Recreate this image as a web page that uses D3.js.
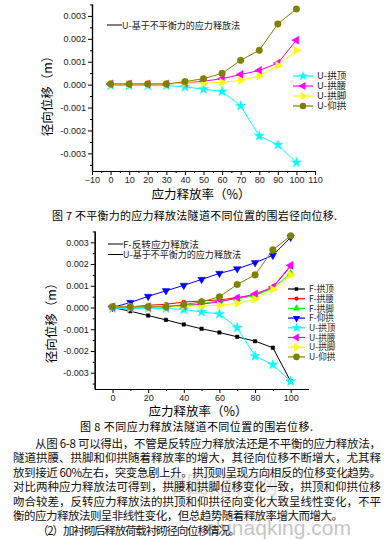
<!DOCTYPE html>
<html>
<head>
<meta charset="utf-8">
<script src="https://cdn.jsdelivr.net/npm/d3@7"></script>
<style>
  body { margin: 0; background: #fff; }
  svg { display: block; background: #fff; }
  text { font-family: "Liberation Sans", Arial, sans-serif; }
  .cjk { font-family: "Noto Sans CJK SC", sans-serif; }
</style>
</head>
<body>
<div class="chart"></div>
<script>
// release rate (%)
var rates = [0, 10, 20, 30, 40, 50, 60, 70, 80, 90, 100];

// U = unbalanced-force stress release method
var uCrown  = [-0.00004, -0.00004, -0.00004, -0.00004, -0.0001, -0.0002, -0.0003, -0.00093, -0.00224, -0.00263, -0.0034];
var uWaist  = [0.00003, 0.00003, 0.00003, 0.00003, 0.00007, 0.00015, 0.00026, 0.00044, 0.00062, 0.00094, 0.00194];
var uFoot   = [0.00003, 0.00003, 0.00003, 0.00003, 0.00007, 0.00007, 0.0001, 0.00019, 0.00038, 0.00084, 0.0015];
var uInvert = [0.00003, 0.00003, 0.00003, 0.00003, 0.00013, 0.00026, 0.00049, 0.00106, 0.0015, 0.00265, 0.0033];

// F = reversed stress release method
var fCrown  = [0, -0.00017, -0.00037, -0.00057, -0.00078, -0.00098, -0.00115, -0.00135, -0.00155, -0.00185, -0.0034];
var fWaist  = [0, 0.00003, 0.0001, 0.00015, 0.00025, 0.0003, 0.00035, 0.00045, 0.00057, 0.00092, 0.0019];
var fFoot   = [0, 0, 0.00003, 0.00006, 0.0001, 0.00018, 0.0003, 0.0004, 0.00055, 0.0009, 0.00157];
var fInvert = [0, 0.00023, 0.00051, 0.00077, 0.00102, 0.00129, 0.00157, 0.00178, 0.00206, 0.0024, 0.00323];

var yTicks = [-0.003, -0.002, -0.001, 0, 0.001, 0.002, 0.003];
var xTicks1 = [-10, 0, 10, 20, 30, 40, 50, 60, 70, 80, 90, 100, 110];
var xTicks2 = [0, 20, 40, 60, 80, 100];

var uNames = ["U-拱顶", "U-拱腰", "U-拱脚", "U-仰拱"];
var fNames = ["F-拱顶", "F-拱腰", "F-拱脚", "F-仰拱"];

var paragraph = [
  "从图 6-8 可以得出，不管是反转应力释放法还是不平衡的应力释放法，",
  "隧道拱腰、拱脚和仰拱随着释放率的增大，其径向位移不断增大，尤其释",
  "放到接近 60%左右，突变急剧上升。拱顶则呈现方向相反的位移变化趋势。",
  "对比两种应力释放法可得到，拱腰和拱脚位移变化一致，拱顶和仰拱位移",
  "吻合较差，反转应力释放法的拱顶和仰拱径向变化大致呈线性变化，不平",
  "衡的应力释放法则呈非线性变化，但总趋势随着释放率增大而增大。",
  "（2）加衬砌后释放荷载衬砌径向位移情况。"
];

var svg = d3.select(".chart").append("svg")
  .attr("width", 387)
  .attr("height", 540);

// series styles
var uStyles = [
  { values: uCrown,  color: "#00ffff", sym: d3.symbolStar, rot: 0, size: 30 },
  { values: uWaist,  color: "#ff00ff", sym: d3.symbolTriangle, rot: -90, size: 28 },
  { values: uFoot,   color: "#ffff00", sym: d3.symbolTriangle, rot: 90, size: 28 },
  { values: uInvert, color: "#808000", sym: d3.symbolCircle, rot: 0, size: 34 }
];
var fStyles = [
  { values: fCrown,  color: "#000000", sym: d3.symbolSquare, rot: 0, size: 12 },
  { values: fWaist,  color: "#ff0000", sym: d3.symbolCircle, rot: 0, size: 14 },
  { values: fFoot,   color: "#00ff00", sym: d3.symbolTriangle, rot: 0, size: 22 },
  { values: fInvert, color: "#0000ff", sym: d3.symbolTriangle, rot: 180, size: 24 }
];

function drawAxes(g, x, y, xTicks, xMinor, yMinor, axisY) {
  // minor ticks
  g.append("g")
    .attr("transform", `translate(0, ${axisY})`)
    .call(d3.axisBottom(x).tickValues(xMinor).tickSize(2).tickSizeOuter(0).tickFormat(""));
  g.append("g")
    .attr("transform", `translate(${x.range()[0]}, 0)`)
    .call(d3.axisLeft(y).tickValues(yMinor).tickSize(2).tickSizeOuter(0).tickFormat(""));

  var xa = g.append("g")
    .attr("transform", `translate(0, ${axisY})`)
    .call(d3.axisBottom(x).tickValues(xTicks).tickSize(4).tickSizeOuter(0).tickPadding(2));
  var ya = g.append("g")
    .attr("transform", `translate(${x.range()[0]}, 0)`)
    .call(d3.axisLeft(y).tickValues(yTicks).tickSize(4).tickSizeOuter(0).tickPadding(2)
      .tickFormat(d => d.toFixed(3)));

  g.selectAll(".domain").attr("stroke", "#000").attr("stroke-width", 1.2);
  [xa, ya].forEach(function(a) {
    a.selectAll("text")
      .attr("font-family", "Liberation Sans, Arial, sans-serif")
      .attr("font-size", 9)
      .attr("fill", "#222");
  });
}

function drawSeries(g, x, y, styles) {
  styles.forEach(function(s) {
    var pts = rates.map((r, i) => [r, s.values[i]]);
    g.append("path")
      .datum(pts)
      .attr("fill", "none")
      .attr("stroke", s.color)
      .attr("stroke-width", 1)
      .attr("d", d3.line().x(d => x(d[0])).y(d => y(d[1])));
    g.selectAll(null)
      .data(pts)
      .enter()
      .append("path")
      .attr("d", d3.symbol().type(s.sym).size(s.size))
      .attr("transform", d => `translate(${x(d[0])}, ${y(d[1])}) rotate(${s.rot})`)
      .attr("fill", s.color)
      .attr("stroke", s.color)
      .attr("stroke-width", 0.5);
  });
}

function drawLegend(g, styles, names, x0, y0, step, lineLen, fs) {
  styles.forEach(function(s, i) {
    var yy = y0 + i * step;
    g.append("line")
      .attr("x1", x0).attr("x2", x0 + lineLen)
      .attr("y1", yy).attr("y2", yy)
      .attr("stroke", s.color).attr("stroke-width", 1.2);
    g.append("path")
      .attr("d", d3.symbol().type(s.sym).size(s.size))
      .attr("transform", `translate(${x0 + lineLen / 2}, ${yy}) rotate(${s.rot})`)
      .attr("fill", s.color);
    g.append("text")
      .attr("class", "cjk")
      .attr("x", x0 + lineLen + 4)
      .attr("y", yy + 3.2)
      .attr("font-size", fs)
      .attr("fill", "#222")
      .text(names[i]);
  });
}

function methodLabel(g, x0, yy, label, w) {
  g.append("line")
    .attr("x1", x0).attr("x2", x0 + 15)
    .attr("y1", yy).attr("y2", yy)
    .attr("stroke", "#000").attr("stroke-width", 1);
  g.append("text")
    .attr("class", "cjk")
    .attr("x", x0 + 15)
    .attr("y", yy + 3.5)
    .attr("font-size", 9.5)
    .attr("textLength", w)
    .attr("lengthAdjust", "spacingAndGlyphs")
    .attr("fill", "#222")
    .text(label);
}

function titles(g, xCx, xCy, yCx, yCy, caption, capX, capY, capW) {
  g.append("text")
    .attr("class", "cjk")
    .attr("x", xCx).attr("y", xCy)
    .attr("text-anchor", "middle")
    .attr("font-size", 12.5)
    .text("应力释放率（%）");
  g.append("text")
    .attr("class", "cjk")
    .attr("transform", `translate(${yCx}, ${yCy}) rotate(-90)`)
    .attr("text-anchor", "middle")
    .attr("font-size", 12.5)
    .text("径向位移（m）");
  g.append("text")
    .attr("class", "cjk")
    .attr("x", capX).attr("y", capY)
    .attr("font-size", 11)
    .attr("textLength", capW)
    .attr("lengthAdjust", "spacing")
    .text(caption);
}

var minorY = d3.range(-0.0035, 0.0036, 0.001).map(d => +d.toFixed(4));

// ---------- chart 1 ----------
var x1 = d3.scaleLinear().domain([-10, 110]).range([92, 315]);
var y1 = d3.scaleLinear().domain([-0.00377, 0.00352]).range([171, 4]);
var g1 = svg.append("g");
drawAxes(g1, x1, y1, xTicks1, d3.range(-5, 110, 10), minorY, 171);
drawSeries(g1, x1, y1, uStyles);
methodLabel(g1, 107, 25, "U-基于不平衡力的应力释放法", 118);
drawLegend(g1, uStyles, uNames, 293, 76, 10, 20, 9.5);
titles(g1, 201, 199, 52, 93, "图 7 不平衡力的应力释放法隧道不同位置的围岩径向位移.", 52, 220, 285);

// ---------- chart 2 ----------
var x2 = d3.scaleLinear().domain([-10, 110]).range([94.7, 308.5]);
var y2 = d3.scaleLinear().domain([-0.00375, 0.00352]).range([389, 231]);
var g2 = svg.append("g");
drawAxes(g2, x2, y2, xTicks2, d3.range(10, 110, 20), minorY, 389);
drawSeries(g2, x2, y2, fStyles);
drawSeries(g2, x2, y2, uStyles);
methodLabel(g2, 108, 244, "F-反转应力释放法", 76);
methodLabel(g2, 108, 254.5, "U-基于不平衡力的应力释放法", 118);
drawLegend(g2, fStyles.concat(uStyles), fNames.concat(uNames), 288, 289, 9.7, 17, 8.6);
titles(g2, 198, 416, 56, 320, "图 8 不同应力释放法隧道不同位置的围岩位移.", 80, 431, 233);

// ---------- watermark ----------
svg.append("text")
  .attr("class", "cjk")
  .attr("x", 163).attr("y", 493)
  .attr("font-size", 23)
  .attr("fill", "#c8c8c8")
  .attr("opacity", 0.6)
  .text("中国期刊网");
svg.append("text")
  .attr("x", 205).attr("y", 535)
  .attr("font-size", 21)
  .attr("fill", "#a0a0a0")
  .attr("opacity", 0.6)
  .text("chinaqking.com");

// ---------- body text ----------
var lineX = [35, 13, 13, 13, 13, 13, 37];
var lineW = [346, 368, 368, 368, 368, 330, 203];
svg.selectAll(".para")
  .data(paragraph)
  .enter()
  .append("text")
  .attr("class", "cjk para")
  .attr("x", (d, i) => lineX[i])
  .attr("y", (d, i) => 447.5 + i * 14.5)
  .attr("font-size", 11.5)
  .attr("textLength", (d, i) => lineW[i])
  .attr("lengthAdjust", "spacing")
  .attr("fill", "#111")
  .text(d => d);
</script>
</body>
</html>
